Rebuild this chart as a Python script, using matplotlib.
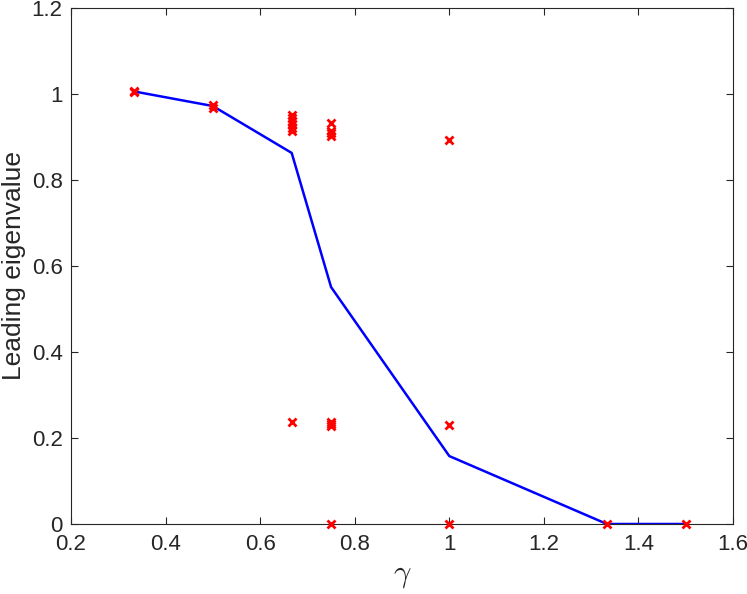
import numpy as np
import matplotlib.pyplot as plt

plt.rcParams['font.family'] = ['Liberation Sans', 'DejaVu Sans']
plt.rcParams['mathtext.fontset'] = 'cm'

# mean curve
gamma_line = [1/3, 0.5, 2/3, 0.75, 1.0, 4/3, 1.5]
eig_line = [1.006, 0.972, 0.863, 0.551, 0.158, 0.0, 0.0]

# individual runs
gamma_pts = [1/3, 1/3,
             0.5, 0.5,
             2/3, 2/3, 2/3, 2/3, 2/3, 2/3, 2/3,
             0.75, 0.75, 0.75, 0.75, 0.75, 0.75, 0.75, 0.75,
             1.0, 1.0, 1.0,
             4/3, 1.5]
eig_pts = [1.008, 1.004,
           0.975, 0.968,
           0.952, 0.945, 0.938, 0.930, 0.922, 0.915, 0.237,
           0.933, 0.915, 0.909, 0.903, 0.238, 0.232, 0.227, 0.0,
           0.893, 0.230, 0.0,
           0.0, 0.0]

fig = plt.figure(figsize=(7.47, 5.94), dpi=100)
ax = fig.add_axes([71/747, 70/594, 662/747, 516/594])

ax.plot(gamma_line, eig_line, color='b', lw=1.8, zorder=2)
ax.plot(gamma_pts, eig_pts, 'x', color='r', ms=5.5, mew=2, zorder=3, clip_on=False)

ax.set_xlim(0.2, 1.6)
ax.set_ylim(0, 1.2)
ax.set_xticks(np.arange(0.2, 1.61, 0.2))
ax.set_xticklabels(['0.2', '0.4', '0.6', '0.8', '1', '1.2', '1.4', '1.6'])
ax.set_yticks(np.arange(0, 1.21, 0.2))
ax.set_yticklabels(['0', '0.2', '0.4', '0.6', '0.8', '1', '1.2'])

col = '#262626'
for s in ax.spines.values():
    s.set_color(col)
    s.set_linewidth(0.8)
ax.tick_params(direction='in', top=True, right=True, length=5, width=0.8,
               colors=col, labelsize=16)
ax.tick_params(axis='y', pad=6)
ax.tick_params(axis='x', pad=7)
ax.set_xlabel(r'$\gamma$', fontsize=22, color=col, labelpad=4)
ax.set_ylabel('Leading eigenvalue', fontsize=19, color=col, labelpad=4)

plt.savefig('out.png', dpi=100)
